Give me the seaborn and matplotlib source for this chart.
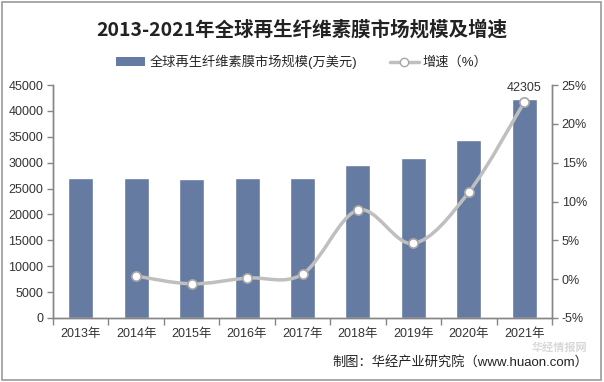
import numpy as np
import matplotlib
matplotlib.use("Agg")
import matplotlib.pyplot as plt
import seaborn as sns
from matplotlib.path import Path
from matplotlib.patches import PathPatch, Patch, Rectangle
from matplotlib.lines import Line2D
from matplotlib.ticker import FuncFormatter, MultipleLocator

years = ["2013年", "2014年", "2015年", "2016年", "2017年", "2018年", "2019年", "2020年", "2021年"]
market_size = [27130, 27130, 26880, 27130, 27130, 29570, 30970, 34370, 42305]
growth_years = ["2014年", "2015年", "2016年", "2017年", "2018年", "2019年", "2020年", "2021年"]
growth_rate = [0.4, -0.6, 0.15, 0.65, 8.9, 4.6, 11.2, 22.8]

bar_label = "全球再生纤维素膜市场规模(万美元)"
line_label = "增速（%）"
title = "2013-2021年全球再生纤维素膜市场规模及增速"
source = "制图：华经产业研究院（www.huaon.com）"

sns.set_style("white")
plt.rcParams["font.family"] = ["Liberation Sans", "Noto Sans CJK SC", "DejaVu Sans"]
plt.rcParams["axes.unicode_minus"] = False

bar_color = "#667BA1"
line_color = "#BFBFBF"
axis_color = "#868686"

fig = plt.figure(figsize=(6.04, 3.82), dpi=100)
ax = fig.add_axes([53 / 604, 1 - 318 / 382, 499 / 604, 233 / 382])

sns.barplot(x=years, y=market_size, color=bar_color, width=0.45, saturation=1, ax=ax)
ax.set_ylim(0, 45000)
ax.set_xlim(-0.5, len(years) - 0.5)
ax.yaxis.set_major_locator(MultipleLocator(5000))
ax.set_xlabel("")
ax.set_ylabel("")

# value label on the last bar
ax.text(len(years) - 1, market_size[-1] + 900, f"{market_size[-1]}", ha="center",
        va="bottom", fontsize=9, color="#333333")

ax2 = ax.twinx()
ax2.set_ylim(-5, 25)
ax2.yaxis.set_major_locator(MultipleLocator(5))
ax2.yaxis.set_major_formatter(FuncFormatter(lambda v, p: f"{v:.0f}%"))

# smooth curve through growth points (Catmull-Rom as cubic Bezier)
gx = [years.index(y) for y in growth_years]
pts = np.column_stack([gx, growth_rate]).astype(float)
n = len(pts)
verts = [pts[0]]
codes = [Path.MOVETO]
for i in range(n - 1):
    p0 = pts[i - 1] if i > 0 else pts[i]
    p1, p2 = pts[i], pts[i + 1]
    p3 = pts[i + 2] if i + 2 < n else pts[i + 1]
    c1 = p1 + (p2 - p0) / 6
    c2 = p2 - (p3 - p1) / 6
    verts += [c1, c2, p2]
    codes += [Path.CURVE4] * 3
ax2.add_patch(PathPatch(Path(verts, codes), fill=False, edgecolor=line_color, lw=2.5,
                        capstyle="round", zorder=3))
sns.scatterplot(x=gx, y=growth_rate, ax=ax2, s=45, color="white", edgecolor="#A6A6A6",
                linewidth=1.2, zorder=4, legend=False)

for a in (ax, ax2):
    a.spines["top"].set_visible(False)
    for side in ("left", "right", "bottom"):
        a.spines[side].set_color(axis_color)
        a.spines[side].set_linewidth(1)
    a.tick_params(axis="y", length=4, width=1, color=axis_color, labelsize=9,
                  labelcolor="#333333", pad=3)
ax.tick_params(axis="y", left=True, direction="out")
ax2.tick_params(axis="y", right=True, direction="out")

ax.set_xticks(range(len(years)))
ax.set_xticklabels(years)
ax.set_xticks(np.arange(-0.5, len(years), 1), minor=True)
ax.tick_params(axis="x", which="major", length=0, labelsize=9, labelcolor="#333333", pad=7)
ax.tick_params(axis="x", which="minor", length=5, width=1, color=axis_color, bottom=True)

fig.text(0.5, 1 - 30 / 382, title, ha="center", va="center", fontsize=14,
         fontweight="bold", family=["Noto Sans CJK SC"], color="#222222")

handles = [Patch(facecolor=bar_color, edgecolor="none"),
           Line2D([0], [0], color=line_color, lw=2.5, marker="o", markersize=6,
                  markerfacecolor="white", markeredgecolor="#A6A6A6")]
fig.legend(handles, [bar_label, line_label], loc="center", ncol=2,
           bbox_to_anchor=(0.5, 1 - 62 / 382), frameon=False, fontsize=9.5,
           handlelength=2.2, handleheight=0.7, columnspacing=2.5, handletextpad=0.3)

fig.text(588 / 604, 1 - 362 / 382, source, ha="right", va="center", fontsize=9.5,
         color="#222222")
# faint watermark
fig.text(560 / 604, 1 - 347 / 382, "华经情报网", ha="center", va="center", fontsize=8,
         fontweight="bold", color="#C8C8C8", alpha=0.7, family=["Noto Sans CJK SC"])

fig.patches.append(Rectangle((0.003, 0.004), 0.992, 0.99, transform=fig.transFigure,
                             fill=False, edgecolor="#9A9A9A", lw=1.2))

plt.savefig("out.png", dpi=100)
